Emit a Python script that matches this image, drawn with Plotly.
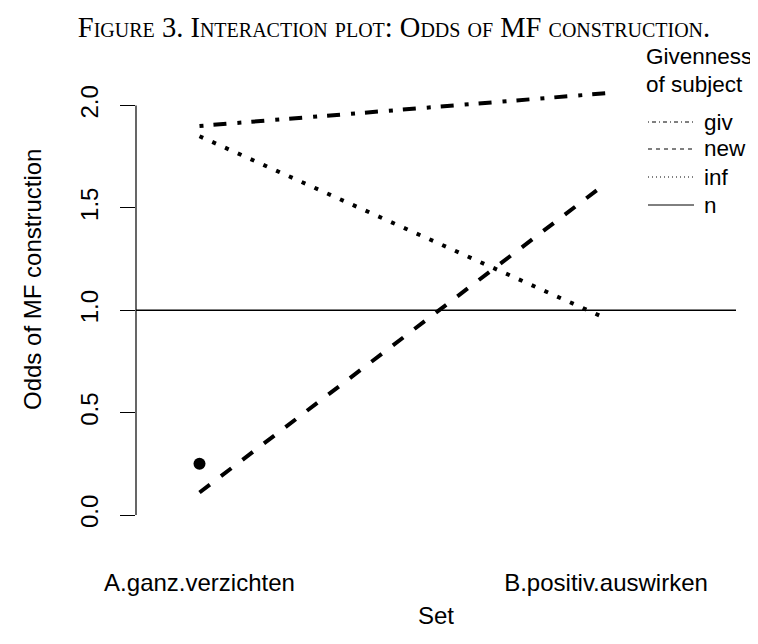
import plotly.graph_objects as go

# ---- data ----
categories = ["A.ganz.verzichten", "B.positiv.auswirken"]
giv = [1.90, 2.06]
new = [0.11, 1.62]
inf = [1.85, 0.96]
n_reference = 1.0
point_category = ["A.ganz.verzichten"]
point_value = [0.25]
y_ticks = [0.0, 0.5, 1.0, 1.5, 2.0]
y_tick_labels = ["0.0", "0.5", "1.0", "1.5", "2.0"]
legend_title_lines = ["Givenness", "of subject"]
legend_labels = ["giv", "new", "inf", "n"]

title_text = "Figure 3. Interaction plot: Odds of MF construction."
x_title = "Set"
y_title = "Odds of MF construction"

# ---- styles ----
W, H = 758, 644
L, R, T, B = 128, 30, 60, 104
plot_w = W - L - R
plot_h = H - T - B
sans = "Liberation Sans, Arial, Helvetica, sans-serif"
serif = "Liberation Serif, Times New Roman, serif"
fs = 24
lw = 4
dashes = {
    "giv": "4px,10px,13px,11px",
    "new": "13px,14px",
    "inf": "4px,10px",
}
legend_dashes = {
    "giv": "1px,3px,4px,3px",
    "new": "4px,4px",
    "inf": "1px,3px",
    "n": "solid",
}

xpos = {c: i + 1 for i, c in enumerate(categories)}
xs = [xpos[c] for c in categories]

fig = go.Figure()
for name, vals in (("giv", giv), ("new", new), ("inf", inf)):
    fig.add_trace(go.Scatter(
        x=xs, y=vals, mode="lines", name=name,
        line=dict(color="black", width=lw, dash=dashes[name]),
        showlegend=False,
    ))
fig.add_trace(go.Scatter(
    x=[xpos[c] for c in point_category], y=point_value, mode="markers",
    marker=dict(color="black", size=12), showlegend=False,
))

# horizontal reference line (n)
fig.add_shape(type="line", xref="paper", x0=0, x1=1, yref="y",
              y0=n_reference, y1=n_reference,
              line=dict(color="black", width=1.5))
# y axis line from first to last tick (R style)
fig.add_shape(type="line", xref="paper", x0=0, x1=0, yref="y",
              y0=y_ticks[0], y1=y_ticks[-1],
              line=dict(color="black", width=1.2))

# axis ranges so that categories sit where the reference shows them
A_px, B_px = 191.5, 598.0
upx = (xs[1] - xs[0]) / (B_px - A_px)
x_range = [xs[0] - (A_px - L) * upx, xs[1] + (W - R - B_px) * upx]
y0_px, y2_px = 507.0, 97.5
vpx = (y_ticks[-1] - y_ticks[0]) / (y0_px - y2_px)
y_range = [y_ticks[0] - (H - B - y0_px) * vpx, y_ticks[-1] + (y2_px - T) * vpx]


def px_to_paper_x(px):
    return (px - L) / plot_w


def px_to_paper_y(py):
    return (H - B - py) / plot_h


# custom legend (thin line samples like R's legend)
legend_fs = 22.5
title_rows = [49, 76]
item_rows = [114, 141, 169, 197]
for txt, py in zip(legend_title_lines, title_rows):
    fig.add_annotation(text=txt, xref="paper", yref="paper",
                       x=px_to_paper_x(636), y=px_to_paper_y(py),
                       xanchor="left", yanchor="middle", showarrow=False,
                       font=dict(family=sans, size=legend_fs, color="black"))
for lab, py in zip(legend_labels, item_rows):
    fig.add_shape(type="line", xref="paper", yref="paper",
                  x0=px_to_paper_x(640), x1=px_to_paper_x(686),
                  y0=px_to_paper_y(py), y1=px_to_paper_y(py),
                  line=dict(color="black", width=1, dash=legend_dashes[lab]))
    fig.add_annotation(text=lab, xref="paper", yref="paper",
                       x=px_to_paper_x(694), y=px_to_paper_y(py),
                       xanchor="left", yanchor="middle", showarrow=False,
                       font=dict(family=sans, size=legend_fs, color="black"))

# y-axis title (R centres it on its own plot region, a bit above this one)
fig.add_annotation(text=y_title, xref="paper", yref="paper",
                   x=px_to_paper_x(24), y=px_to_paper_y(272),
                   xanchor="center", yanchor="middle", textangle=-90,
                   showarrow=False,
                   font=dict(family=sans, size=fs, color="black"))

fig.update_layout(
    width=W, height=H,
    margin=dict(l=L, r=R, t=T, b=B, pad=0),
    paper_bgcolor="white", plot_bgcolor="white",
    title=dict(text=title_text, xref="container", yref="container",
               x=386 / W, y=1 - 19 / H, xanchor="center", yanchor="middle",
               font=dict(family=serif, size=28.5, color="black", variant="small-caps")),
    xaxis=dict(range=x_range, tickvals=xs, ticktext=categories,
               showline=False, showgrid=False, zeroline=False, ticks="",
               tickfont=dict(family=sans, size=fs, color="black"),
               ticklabelstandoff=18,
               title=dict(text=x_title, standoff=12,
                          font=dict(family=sans, size=fs, color="black"))),
    yaxis=dict(range=y_range, tickvals=y_ticks, ticktext=y_tick_labels,
               showline=False, showgrid=False, zeroline=False,
               ticks="outside", ticklen=15, tickwidth=1.2, tickcolor="black",
               tickangle=-90,
               tickfont=dict(family=sans, size=fs, color="black"),
               ticklabelstandoff=12),
)

fig.write_html("out.html")
